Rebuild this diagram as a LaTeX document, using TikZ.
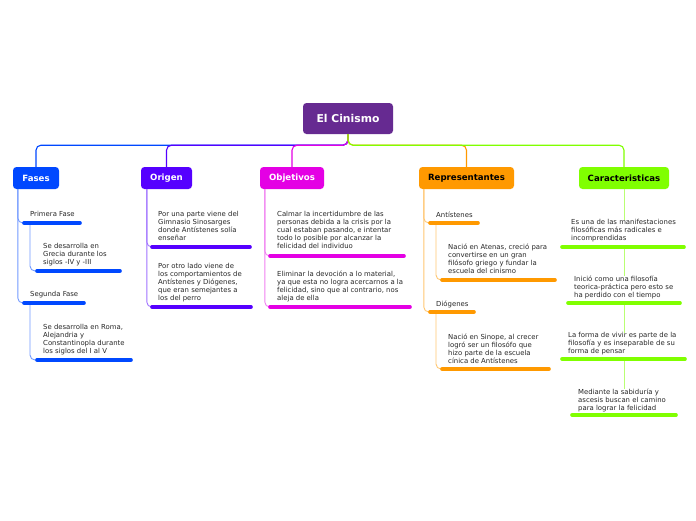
\documentclass[tikz,border=0pt]{standalone}
\usepackage{fontspec}
\setmainfont{DejaVu Sans}
\definecolor{cRoot}{RGB}{102,42,145}
\definecolor{cBlue}{RGB}{0,72,255}
\definecolor{cViolet}{RGB}{85,0,255}
\definecolor{cMag}{RGB}{228,0,228}
\definecolor{cOrange}{RGB}{255,153,0}
\definecolor{cGreen}{RGB}{128,255,0}
\definecolor{cText}{RGB}{40,40,40}
\begin{document}
\begin{tikzpicture}[x=1pt,y=-1pt,
  mainbox/.style={rounded corners=3.5, minimum height=22, inner sep=0,
    font=\bfseries\fontsize{8.6}{10}\selectfont},
  subtext/.style={anchor=north west, inner sep=0, align=left, text=cText,
    font=\fontsize{6.9}{8}\selectfont},
  bar/.style={line width=3.6, line cap=round},
  conn/.style={line width=0.9, rounded corners=5},
  link/.style={line width=1.1, rounded corners=5}]
\useasboundingbox (0,0) rectangle (696,520);
\fill[white] (0,0) rectangle (696,520);

% root
\node[mainbox, fill=cRoot, text=white, minimum width=90, minimum height=31,
  font=\bfseries\fontsize{10.8}{12}\selectfont] (root) at (348,118.5) {El Cinismo};

% main topics
\node[mainbox, fill=cBlue, text=white, minimum width=46] (fases) at (36,178) {Fases};
\node[mainbox, fill=cViolet, text=white, minimum width=51] (origen) at (166.5,178) {Origen};
\node[mainbox, fill=cMag, text=white, minimum width=64] (obj) at (292,178) {Objetivos};
\node[mainbox, fill=cOrange, text=black, minimum width=95] (rep) at (466.5,178) {Representantes};
\node[mainbox, fill=cGreen, text=black, minimum width=90] (car) at (624,178) {Caracteristicas};

% root links
\draw[link, cBlue] (root.south) -- ++(0,11) -| (fases.north);
\draw[link, cViolet] (root.south) -- ++(0,11) -| (origen.north);
\draw[link, cMag] (root.south) -- ++(0,11) -| (obj.north);
\draw[link, cOrange] (root.south) -- ++(0,11) -| (rep.north);
\draw[link, cGreen] (root.south) -- ++(0,11) -| (car.north);

% ---------- Fases ----------
\node[subtext] (f1) at (30,211.5) {Primera Fase};
\node[subtext] (f2) at (43,243.5) {Se desarrolla en\\Grecia durante los\\siglos -IV y -III};
\node[subtext] (f3) at (30,291.5) {Segunda Fase};
\node[subtext] (f4) at (43,324.5) {Se desarrolla en Roma,\\Alejandria y\\Constantinopla durante\\los siglos del I al V};
\coordinate (fb1) at (24,223);
\coordinate (fb2) at (37,271);
\coordinate (fb3) at (24,303);
\coordinate (fb4) at (37,360);
\draw[conn, cBlue!55] ([xshift=5]fases.south west) |- (fb1);
\draw[conn, cBlue!55] ([xshift=5]fases.south west) |- (fb3);
\draw[conn, cBlue!55] ([xshift=6]fb1) |- (fb2);
\draw[conn, cBlue!55] ([xshift=6]fb3) |- (fb4);
\draw[bar, cBlue] (fb1) -- ++(56,0);
\draw[bar, cBlue] (fb2) -- ++(83,0);
\draw[bar, cBlue] (fb3) -- ++(60,0);
\draw[bar, cBlue] (fb4) -- ++(94,0);

% ---------- Origen ----------
\node[subtext] (o1) at (158,211.5) {Por una parte viene del\\Gimnasio Sinosarges\\donde Antístenes solía\\enseñar};
\node[subtext] (o2) at (158,263.5) {Por otro lado viene de\\los comportamientos de\\Antístenes y Diógenes,\\que eran semejantes a\\los del perro};
\coordinate (ob1) at (152,247);
\coordinate (ob2) at (152,307);
\draw[conn, cViolet!55] ([xshift=6]origen.south west) |- (ob1);
\draw[conn, cViolet!55] ([xshift=6]origen.south west) |- (ob2);
\draw[bar, cViolet] (ob1) -- ++(98,0);
\draw[bar, cViolet] (ob2) -- ++(99,0);

% ---------- Objetivos ----------
\node[subtext] (j1) at (277,211.5) {Calmar la incertidumbre de las\\personas debida a la crisis por la\\cual estaban pasando, e intentar\\todo lo posible por alcanzar la\\felicidad del individuo};
\node[subtext] (j2) at (277,270.5) {Eliminar la devoción a lo material,\\ya que esta no logra acercarnos a la\\felicidad, sino que al contrario, nos\\aleja de ella};
\coordinate (jb1) at (270,256);
\coordinate (jb2) at (270,307);
\draw[conn, cMag!50] ([xshift=5]obj.south west) |- (jb1);
\draw[conn, cMag!50] ([xshift=5]obj.south west) |- (jb2);
\draw[bar, cMag] (jb1) -- ++(134,0);
\draw[bar, cMag] (jb2) -- ++(140,0);

% ---------- Representantes ----------
\node[subtext] (r1) at (436,211.5) {Antístenes};
\node[subtext] (r2) at (448,243.5) {Nació en Atenas, creció para\\convertirse en un gran\\filósofo griego y fundar la\\escuela del cinismo};
\node[subtext] (r3) at (436,300.5) {Diógenes};
\node[subtext] (r4) at (448,333.5) {Nació en Sinope, al crecer\\logró ser un filosófo que\\hizo parte de la escuela\\cínica de Antístenes};
\coordinate (rb1) at (430,223);
\coordinate (rb2) at (442,280);
\coordinate (rb3) at (430,312);
\coordinate (rb4) at (442,369);
\draw[conn, cOrange!55] ([xshift=5]rep.south west) |- (rb1);
\draw[conn, cOrange!55] ([xshift=5]rep.south west) |- (rb3);
\draw[conn, cOrange!55] ([xshift=6]rb1) |- (rb2);
\draw[conn, cOrange!55] ([xshift=6]rb3) |- (rb4);
\draw[bar, cOrange] (rb1) -- ++(48,0);
\draw[bar, cOrange] (rb2) -- ++(113,0);
\draw[bar, cOrange] (rb3) -- ++(44,0);
\draw[bar, cOrange] (rb4) -- ++(107,0);

% ---------- Caracteristicas ----------
\node[subtext] (c1) at (571,219.5) {Es una de las manifestaciones\\filosóficas más radicales e\\incomprendidas};
\node[subtext] (c2) at (574,275.5) {Inició como una filosofía\\teorica-práctica pero esto se\\ha perdido con el tiempo};
\node[subtext] (c3) at (568,332.5) {La forma de vivir es parte de la\\filosofía y es inseparable de su\\forma de pensar};
\node[subtext] (c4) at (578,388.5) {Mediante la sabiduría y\\ascesis buscan el camino\\para lograr la felicidad};
\coordinate (cb1) at (562,247);
\coordinate (cb2) at (568,303);
\coordinate (cb3) at (562,359);
\coordinate (cb4) at (572,415);
\coordinate (cm1) at (624,247);
\coordinate (cm2) at (624,303);
\coordinate (cm3) at (624,359);
\draw[conn, cGreen!55] (car.south) -- (car.south |- c1.north);
\draw[conn, cGreen!55] (cm1) -- (cm1 |- c2.north);
\draw[conn, cGreen!55] (cm2) -- (cm2 |- c3.north);
\draw[conn, cGreen!55] (cm3) -- (cm3 |- c4.north);
\draw[bar, cGreen] (cb1) -- ++(122,0);
\draw[bar, cGreen] (cb2) -- ++(112,0);
\draw[bar, cGreen] (cb3) -- ++(123,0);
\draw[bar, cGreen] (cb4) -- ++(104,0);
\end{tikzpicture}
\end{document}
